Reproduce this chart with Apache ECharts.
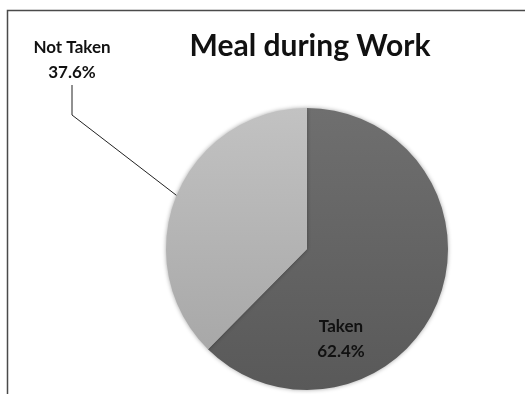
<!DOCTYPE html>
<html>
<head>
<meta charset="utf-8">
<script src="https://cdn.jsdelivr.net/npm/echarts@6/dist/echarts.min.js"></script>
<style>
  html, body { margin: 0; padding: 0; background: #fff; }
  #chart { width: 525px; height: 394px; }
</style>
</head>
<body>
<div id="chart"></div>
<script>
// Meal during work: share of staff who take a meal
const categories = ['Taken', 'Not Taken'];
const shares = [62.4, 37.6];
const sliceColors = [
  ['#6f6f6f', '#595959'],
  ['#c2c2c2', '#a8a8a8']
];

function grad(pair) {
  return new echarts.graphic.LinearGradient(0, 0, 0, 1, [
    { offset: 0, color: pair[0] },
    { offset: 1, color: pair[1] }
  ]);
}

const chart = echarts.init(document.getElementById('chart'), null, { renderer: 'canvas' });

const labelFont = {
  fontFamily: 'Lato, "Open Sans", sans-serif',
  fontWeight: 'bold',
  fontSize: 17,
  lineHeight: 25,
  color: '#111'
};

chart.setOption({
  animation: false,
  backgroundColor: '#fff',
  graphic: [{
    type: 'rect',
    shape: { x: 7.5, y: 10.5, width: 540, height: 400 },
    style: { fill: 'none', stroke: '#4a4a4a', lineWidth: 1.5 },
    silent: true
  }],
  title: {
    text: 'Meal during Work',
    left: 305,
    top: 26,
    textAlign: 'center',
    textStyle: {
      fontFamily: 'Lato, "Open Sans", sans-serif',
      fontWeight: 'bold',
      fontSize: 30,
      color: '#111'
    }
  },
  series: [{
    type: 'pie',
    center: [307, 249],
    radius: 141,
    startAngle: 90,
    clockwise: true,
    itemStyle: {
      shadowBlur: 4,
      shadowColor: 'rgba(0,0,0,0.35)'
    },
    label: Object.assign({
      formatter: p => p.name + '\n' + p.value.toFixed(1) + '%',
      align: 'center'
    }, labelFont),
    labelLine: {
      show: true,
      lineStyle: { color: '#222', width: 1 }
    },
    data: categories.map((name, i) => ({
      name: name,
      value: shares[i],
      itemStyle: { color: grad(sliceColors[i]) },
      label: { position: i === 0 ? 'inside' : 'outside' },
      labelLine: { show: i !== 0 }
    })),
    labelLayout: function (params) {
      if (params.dataIndex === 0) {
        return { x: 341, y: 339, align: 'center', verticalAlign: 'middle' };
      }
      return { x: 72, y: 60, align: 'center', verticalAlign: 'middle' };
    }
  }]
});
</script>
</body>
</html>
